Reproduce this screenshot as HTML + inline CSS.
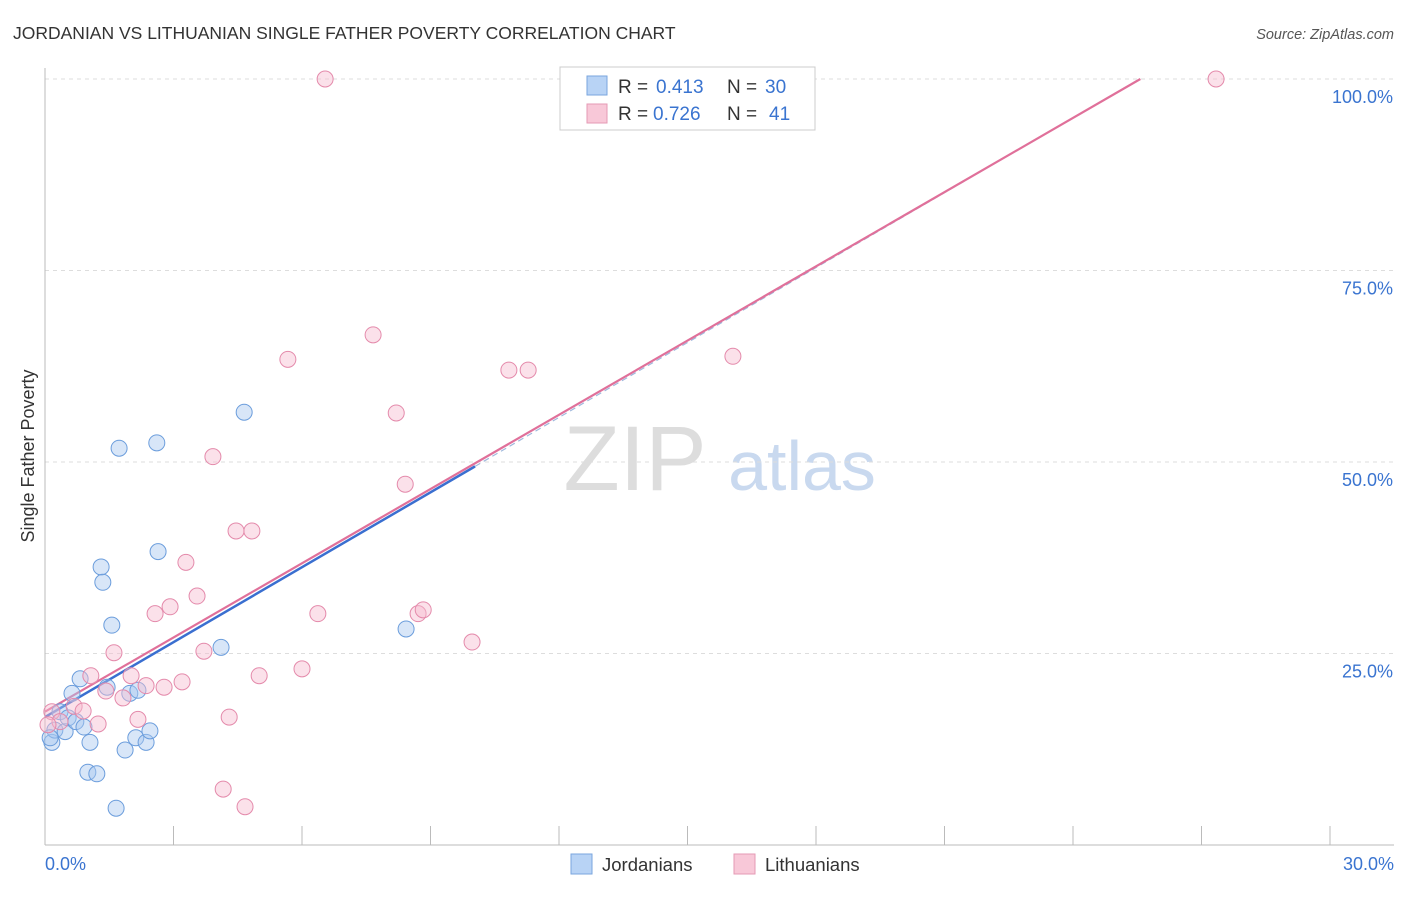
<!DOCTYPE html>
<html><head><meta charset="utf-8"><style>
body{margin:0;background:#fff;font-family:"Liberation Sans",sans-serif;}
svg text{font-family:"Liberation Sans",sans-serif;}
</style></head><body>
<svg id="chart" width="1406" height="892" viewBox="0 0 1406 892" xmlns="http://www.w3.org/2000/svg">
<text x="13" y="39" font-size="17.5" fill="#333">JORDANIAN VS LITHUANIAN SINGLE FATHER POVERTY CORRELATION CHART</text>
<text x="1394" y="39" font-size="14.5" fill="#555" font-style="italic" text-anchor="end">Source: ZipAtlas.com</text>
<text transform="translate(34,456) rotate(-90)" font-size="18" fill="#333" text-anchor="middle">Single Father Poverty</text>
<g>
<text x="635" y="490" font-size="92" fill="#ddd" font-family="Liberation Serif" text-anchor="middle">ZIP</text>
<text x="802" y="490" font-size="70" fill="#c9d9ef" text-anchor="middle">atlas</text>
</g>
<g id="grid"></g><g id="axes"></g><g id="trends"></g><g id="points"></g>
<g>
<rect x="560" y="67" width="255" height="63" fill="#fff" stroke="#ccc"/>
<rect x="587" y="76" width="20" height="19" fill="#b8d3f5" stroke="#7aa6de"/>
<text x="618" y="93" font-size="19" fill="#333">R = </text><text x="656" y="93" font-size="19" fill="#3a74d0">0.413</text>
<text x="727" y="93" font-size="19" fill="#333">N = </text><text x="765" y="93" font-size="19" fill="#3a74d0">30</text>
<rect x="587" y="104" width="20" height="19" fill="#f8c8d8" stroke="#e59ab4"/>
<text x="618" y="120" font-size="19" fill="#333">R = </text><text x="653" y="120" font-size="19" fill="#3a74d0">0.726</text>
<text x="727" y="120" font-size="19" fill="#333">N = </text><text x="769" y="120" font-size="19" fill="#3a74d0">41</text>
</g>
<g>
<rect x="571" y="854" width="21" height="20" fill="#b8d3f5" stroke="#7aa6de"/>
<text x="602" y="871" font-size="18.5" fill="#333">Jordanians</text>
<rect x="734" y="854" width="21" height="20" fill="#f8c8d8" stroke="#e59ab4"/>
<text x="765" y="871" font-size="18.5" fill="#333">Lithuanians</text>
</g>
</svg>
<script>
const xTicks=[0,3,6,9,12,15,18,21,24,27,30];
const yTicks=[25,50,75,100];
const yTickLabels=["25.0%","50.0%","75.0%","100.0%"];
const xEndLabels=["0.0%","30.0%"];
const jordX=[0.16,0.23,0.35,0.47,0.54,0.63,0.72,0.82,0.91,1.05,1.00,1.21,1.31,1.35,1.56,1.66,1.73,1.45,1.87,1.98,2.17,2.12,2.36,2.45,2.61,2.64,4.11,4.65,8.43,0.12];
const jordY=[13.4,15.0,17.4,14.8,16.6,19.8,16.1,21.7,15.4,13.4,9.5,9.3,36.3,34.3,28.7,4.8,51.8,20.6,12.4,19.8,20.2,14.0,13.4,14.9,52.5,38.3,25.8,56.5,28.2,14.0];
const lithX=[6.54,27.34,7.66,5.67,16.06,10.83,11.28,8.20,3.92,8.41,4.46,4.83,3.29,2.92,3.55,2.57,6.37,8.71,8.83,9.97,1.61,3.71,6.00,5.00,1.07,2.01,2.36,3.20,2.78,1.42,1.82,0.68,0.89,1.24,2.17,4.30,4.16,4.67,0.16,0.35,0.07];
const lithY=[100,100,66.6,63.4,63.8,62.0,62.0,56.4,50.7,47.1,41.0,41.0,36.9,31.1,32.5,30.2,30.2,30.2,30.7,26.5,25.1,25.3,23.0,22.1,22.1,22.1,20.8,21.3,20.6,20.1,19.2,18.1,17.5,15.8,16.4,16.7,7.3,5.0,17.4,16.1,15.7];
const jordTrend=[16.7,3.26];
const lithTrend=[17.4,3.23];
const jordSolidEnd=10.04;
const NS="http://www.w3.org/2000/svg";
const X=v=>45+v*(1285/30);
const Y=v=>845-v*7.66;
function mk(parent,tag,attrs){const e=document.createElementNS(NS,tag);for(const k in attrs)e.setAttribute(k,attrs[k]);document.getElementById(parent).appendChild(e);return e;}
yTicks.forEach((t,i)=>{
 const l=mk('grid','line',{x1:45,x2:1394,y1:Y(t),y2:Y(t),stroke:'#ddd','stroke-dasharray':'4,4'});
 
 
 const tx=mk('grid','text',{x:1393,y:Y(t)+24,'font-size':18,fill:'#3a74d0','text-anchor':'end'});
 tx.textContent=yTickLabels[i];
 
 
});
const ax=mk('axes','line',{x1:45,x2:45,y1:68,y2:845,stroke:'#bbb'});


const bx=mk('axes','line',{x1:45,x2:1394,y1:845,y2:845,stroke:'#bbb'});


xTicks.forEach(t=>{
 const l=mk('axes','line',{x1:X(t),x2:X(t),y1:826,y2:845,stroke:'#bbb'});
 
 
});
[[0,'start',45],[30,'end',1394]].forEach((d,i)=>{
 const tx=mk('axes','text',{x:d[2],y:870,'font-size':18,fill:'#3a74d0','text-anchor':d[1]});
 tx.textContent=xEndLabels[i];
 
 
});
function drawPts(xs,ys,fill,stroke,name){
 xs.forEach((x,i)=>{
  const c=mk('points','circle',{cx:X(x),cy:Y(ys[i]),r:8,fill:fill,'fill-opacity':0.45,stroke:stroke,'stroke-width':1});
  
  
 });
}
drawPts(jordX,jordY,'#a9c8f0','#6b9ddc','jordanian-point');
drawPts(lithX,lithY,'#f7bcd0','#e48aab','lithuanian-point');
const jEnd=(100-jordTrend[0])/jordTrend[1];
const l1=mk('trends','line',{x1:X(0),y1:Y(jordTrend[0]),x2:X(jordSolidEnd),y2:Y(jordTrend[0]+jordTrend[1]*jordSolidEnd),stroke:'#3a6fd0','stroke-width':2.5});


const l2=mk('trends','line',{x1:X(jordSolidEnd),y1:Y(jordTrend[0]+jordTrend[1]*jordSolidEnd),x2:X(jEnd),y2:Y(100),stroke:'#9fb8dc','stroke-width':1.2,'stroke-dasharray':'6,4'});


const lEnd=(100-lithTrend[0])/lithTrend[1];
const l3=mk('trends','line',{x1:X(0),y1:Y(lithTrend[0]),x2:X(lEnd),y2:Y(100),stroke:'#e0709a','stroke-width':2.2});


</script>
</body></html>
